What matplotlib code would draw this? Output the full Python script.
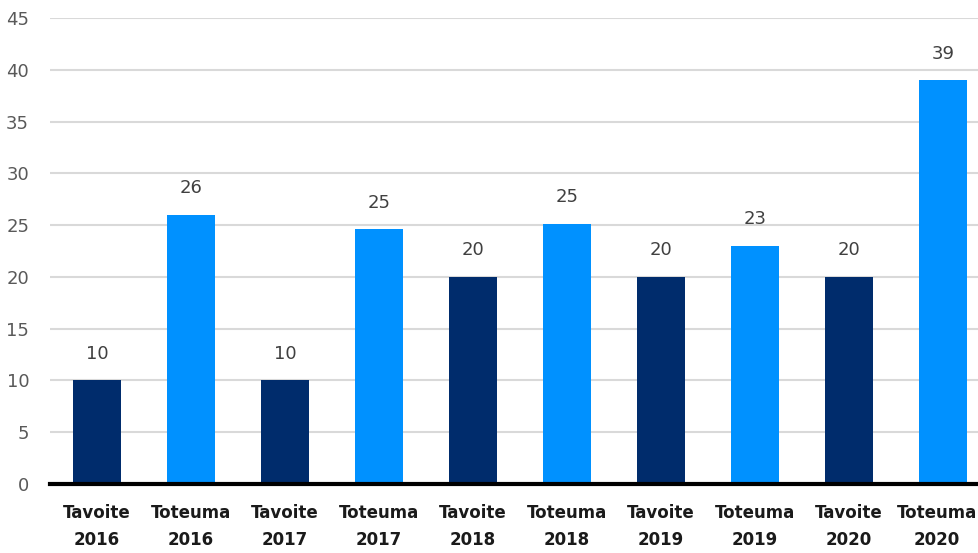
import matplotlib
matplotlib.use("Agg")
import matplotlib.pyplot as plt
import matplotlib.transforms as mtransforms
from matplotlib import font_manager

categories = ["Tavoite\n2016", "Toteuma\n2016", "Tavoite\n2017", "Toteuma\n2017",
              "Tavoite\n2018", "Toteuma\n2018", "Tavoite\n2019", "Toteuma\n2019",
              "Tavoite\n2020", "Toteuma\n2020"]
values = [10, 26, 10, 24.6, 20, 25.1, 20, 23, 20, 39]
yticks = [0, 5, 10, 15, 20, 25, 30, 35, 40, 45]

NAVY = "#002C6C"
BLUE = "#0091FF"
colors = [NAVY if c.startswith("Tavoite") else BLUE for c in categories]

# prefer a narrow face if one is installed
fonts = font_manager.fontManager.ttflist
narrow = [f.name for f in fonts
          if "Condensed" in f.name or "Narrow" in f.name or f.stretch in ("condensed", "semi-condensed")]
family = narrow[0] if narrow else "Roboto"
plt.rcParams["font.family"] = [family, "DejaVu Sans"]

fig = plt.figure(figsize=(9.79, 5.53), dpi=100)
ax = fig.add_axes([50 / 979, 1 - 484 / 553, 940 / 979, (484 - 18) / 553])

x = list(range(len(categories)))
ax.bar(x, values, width=0.52, color=colors, zorder=2)
for xi, v in zip(x, values):
    ax.text(xi, v + 1.7, f"{v:.0f}", ha="center", va="bottom",
            fontsize=13, color="#404040")

ax.set_xlim(-0.5, len(categories) - 0.5)
ax.set_ylim(0, 45)
ax.set_yticks(yticks)
ax.yaxis.grid(True, color="#d9d9d9", linewidth=1.5, zorder=0)
ax.set_axisbelow(True)
for s in ["top", "right", "left"]:
    ax.spines[s].set_visible(False)
ax.spines["bottom"].set_color("black")
ax.spines["bottom"].set_linewidth(3)
ax.spines["bottom"].set_zorder(3)
ax.tick_params(axis="y", length=0, pad=15, labelsize=13, labelcolor="#595959")
ax.set_xticks(x)
ax.set_xticklabels([])
ax.tick_params(axis="x", length=0)

# category labels under the baseline
xform = ax.get_xaxis_transform()
labels = []
for xi, c in zip(x, categories):
    labels.append(ax.text(xi, -0.042, c, transform=xform, ha="center", va="top",
                          fontsize=12, fontweight="bold", color="#1a1a1a",
                          linespacing=1.65, clip_on=False))

# keep the last label inside the canvas
fig.canvas.draw()
renderer = fig.canvas.get_renderer()
fig_w = fig.bbox.width
for t in labels:
    bb = t.get_window_extent(renderer)
    if bb.x1 > fig_w - 2:
        dx = (bb.x1 - (fig_w - 2)) * 72 / fig.dpi
        t.set_transform(mtransforms.offset_copy(xform, fig=fig, x=-dx, y=0, units="points"))

fig.savefig("out.png", dpi=100)
